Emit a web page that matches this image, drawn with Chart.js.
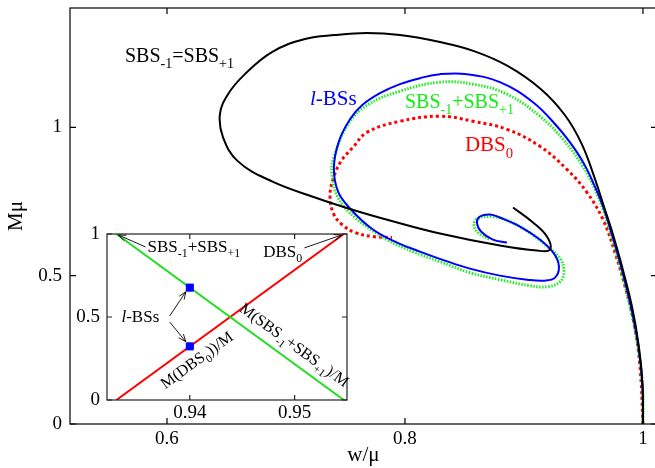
<!DOCTYPE html>
<html>
<head>
<meta charset="utf-8">
<script src="https://cdn.jsdelivr.net/npm/chart.js@4.4.0/dist/chart.umd.min.js"></script>
<style>
  html, body { margin: 0; padding: 0; background: #fff; overflow: hidden; }
  #wrap { position: relative; width: 655px; height: 468px; overflow: hidden; }
  #main { position: absolute; left: 0; top: 0; }
  #inset { position: absolute; left: 60px; top: 222px; }
</style>
</head>
<body>
<div id="wrap">
  <canvas id="main" width="660" height="468"></canvas>
  <canvas id="inset" width="300" height="205"></canvas>
</div>
<script>
// ---- main panel data (w/mu, M mu) ----
const sbsEqX = [1.000, 0.9996, 0.9966, 0.9908, 0.9815, 0.9748, 0.9672, 0.9592, 0.9487, 0.9345, 0.9143, 0.8866, 0.8580, 0.8294, 0.7958, 0.7681, 0.7412, 0.7160, 0.6882, 0.6655, 0.6513, 0.6445, 0.6471, 0.6597, 0.6882, 0.7244, 0.7580, 0.7874, 0.8294, 0.8798, 0.9109, 0.9218, 0.9193, 0.9076, 0.8908];
const sbsEqY = [0.000, 0.1318, 0.2601, 0.3953, 0.5439, 0.6385, 0.7331, 0.8311, 0.9426, 1.0405, 1.1284, 1.2061, 1.2568, 1.2872, 1.3108, 1.3176, 1.3108, 1.2973, 1.2534, 1.1791, 1.1115, 1.0439, 0.9662, 0.8851, 0.8176, 0.7635, 0.7196, 0.6858, 0.6419, 0.6014, 0.5845, 0.5878, 0.6318, 0.6791, 0.7297];

const lbsX = [1.000, 0.9996, 0.9962, 0.9899, 0.9807, 0.9739, 0.9664, 0.9588, 0.9521, 0.9429, 0.9277, 0.9076, 0.8798, 0.8521, 0.8294, 0.8126, 0.7958, 0.7790, 0.7639, 0.7538, 0.7445, 0.7403, 0.7437, 0.7546, 0.7731, 0.7933, 0.8126, 0.8336, 0.8546, 0.8798, 0.9025, 0.9176, 0.9261, 0.9294, 0.9252, 0.9134, 0.8966, 0.8798, 0.8714, 0.8630, 0.8605, 0.8639, 0.8739, 0.8857];
const lbsY = [0.000, 0.1318, 0.2601, 0.3953, 0.5439, 0.6385, 0.7331, 0.8074, 0.8649, 0.9257, 1.0034, 1.0845, 1.1520, 1.1791, 1.1791, 1.1655, 1.1453, 1.1149, 1.0743, 1.0270, 0.9527, 0.8649, 0.7838, 0.7230, 0.6554, 0.6115, 0.5811, 0.5507, 0.5236, 0.5000, 0.4865, 0.4831, 0.4932, 0.5304, 0.5743, 0.6216, 0.6655, 0.6959, 0.7061, 0.6993, 0.6791, 0.6486, 0.6216, 0.6115];

const sbsSumX = [1.000, 0.9996, 0.9958, 0.9891, 0.9798, 0.9731, 0.9664, 0.9597, 0.9496, 0.9328, 0.9134, 0.8857, 0.8571, 0.8294, 0.7958, 0.7681, 0.7521, 0.7403, 0.7387, 0.7437, 0.7580, 0.7849, 0.8067, 0.8294, 0.8546, 0.8798, 0.9050, 0.9202, 0.9303, 0.9336, 0.9303, 0.9176, 0.9008, 0.8840, 0.8714, 0.8613, 0.8580, 0.8613, 0.8714];
const sbsSumY = [0.000, 0.1318, 0.2601, 0.3953, 0.5439, 0.6385, 0.7230, 0.7905, 0.8682, 0.9595, 1.0372, 1.1115, 1.1453, 1.1520, 1.1216, 1.0743, 1.0101, 0.8986, 0.8412, 0.7635, 0.6959, 0.6216, 0.5811, 0.5473, 0.5101, 0.4865, 0.4662, 0.4628, 0.4797, 0.5135, 0.5574, 0.6047, 0.6554, 0.6892, 0.6993, 0.6926, 0.6723, 0.6453, 0.6216];

const dbsX = [1.000, 0.9975, 0.9924, 0.9857, 0.9765, 0.9664, 0.9529, 0.9361, 0.9134, 0.8857, 0.8571, 0.8294, 0.7958, 0.7681, 0.7563, 0.7462, 0.7395, 0.7370, 0.7403, 0.7471, 0.7580, 0.7731, 0.7891];
const dbsY = [0.000, 0.1926, 0.3412, 0.4527, 0.5777, 0.6892, 0.7804, 0.8581, 0.9358, 0.9932, 1.0203, 1.0372, 1.0203, 0.9831, 0.9324, 0.8851, 0.8243, 0.7635, 0.7061, 0.6723, 0.6453, 0.6318, 0.6284];

const xTicks = [0.6, 0.8, 1];
const xTickLabels = ['0.6', '0.8', '1'];
const yTicks = [0, 0.5, 1];
const yTickLabels = ['0', '0.5', '1'];

// ---- inset data (w/mu, M/M) ----
const insetSumX = [0.9330, 0.9547];
const insetSumY = [1, 0];
const insetDbsX = [0.9330, 0.9547];
const insetDbsY = [0, 1];
const insetLbsX = [0.94, 0.94];
const insetLbsY = [0.677, 0.323];

const insetXTicks = [0.94, 0.95];
const insetXTickLabels = ['0.94', '0.95'];
const insetYTicks = [0, 0.5, 1];
const insetYTickLabels = ['0', '0.5', '1'];

const SERIF = '"Liberation Serif", "DejaVu Serif", serif';
const toPts = (xs, ys) => xs.map((x, i) => ({ x: x, y: ys[i] }));

// text with subscripts / italics; parts = [[text, kind]], kind 0 normal, 1 sub, 2 italic
function richWidth(ctx, parts, size) {
  let w = 0;
  parts.forEach(([t, k]) => {
    ctx.font = (k === 2 ? 'italic ' : '') + (k === 1 ? size * 0.7 : size) + 'px ' + SERIF;
    w += ctx.measureText(t).width;
  });
  return w;
}
function drawRich(ctx, parts, x, y, size, color) {
  ctx.save();
  ctx.fillStyle = color;
  ctx.textBaseline = 'alphabetic';
  ctx.textAlign = 'left';
  let cx = x;
  parts.forEach(([t, k]) => {
    ctx.font = (k === 2 ? 'italic ' : '') + (k === 1 ? size * 0.7 : size) + 'px ' + SERIF;
    ctx.fillText(t, cx, y + (k === 1 ? size * 0.3 : 0));
    cx += ctx.measureText(t).width;
  });
  ctx.restore();
}

// frame with inward ticks on all four sides
function drawFrame(chart, xt, yt, len, color, lw) {
  const ctx = chart.ctx, a = chart.chartArea;
  const sx = chart.scales.x, sy = chart.scales.y;
  ctx.save();
  ctx.strokeStyle = color;
  ctx.lineWidth = lw;
  ctx.strokeRect(a.left, a.top, a.right - a.left, a.bottom - a.top);
  ctx.beginPath();
  xt.forEach(v => {
    const p = sx.getPixelForValue(v);
    ctx.moveTo(p, a.bottom); ctx.lineTo(p, a.bottom - len);
    ctx.moveTo(p, a.top); ctx.lineTo(p, a.top + len);
  });
  yt.forEach(v => {
    const p = sy.getPixelForValue(v);
    ctx.moveTo(a.left, p); ctx.lineTo(a.left + len, p);
    ctx.moveTo(a.right, p); ctx.lineTo(a.right - len, p);
  });
  ctx.stroke();
  ctx.restore();
}

function tickScale(ticks, labels, size) {
  return {
    type: 'linear',
    grid: { display: false, drawTicks: false },
    border: { display: false },
    afterBuildTicks: s => { s.ticks = ticks.map(v => ({ value: v })); },
    afterFit: s => {
      if (s.isHorizontal()) s.height = size; else s.width = size;
      s.paddingTop = 0; s.paddingBottom = 0; s.paddingLeft = 0; s.paddingRight = 0;
    },
    ticks: {
      autoSkip: false, maxRotation: 0, color: '#000',
      font: { family: SERIF, size: 19 },
      callback: (v, i) => labels[i]
    }
  };
}

// ---------------- main chart ----------------
const mainLabels = {
  id: 'mainLabels',
  afterDraw(chart) {
    const ctx = chart.ctx, sx = chart.scales.x, sy = chart.scales.y;
    drawFrame(chart, xTicks, yTicks, 6, '#000', 1.2);
    const P = (x, y) => [sx.getPixelForValue(x), sy.getPixelForValue(y)];
    let p = P(0.5647, 1.220);
    drawRich(ctx, [['SBS', 0], ['-1', 1], ['=SBS', 0], ['+1', 1]], p[0], p[1], 20, '#000');
    p = P(0.7202, 1.074);
    drawRich(ctx, [['l', 2], ['-BSs', 0]], p[0], p[1], 21, '#0000ff');
    p = P(0.800, 1.064);
    drawRich(ctx, [['SBS', 0], ['-1', 1], ['+SBS', 0], ['+1', 1]], p[0], p[1], 20, '#11ee11');
    p = P(0.8504, 0.919);
    drawRich(ctx, [['DBS', 0], ['0', 1]], p[0], p[1], 21, '#ff0000');
  }
};

const xMain = tickScale(xTicks, xTickLabels, 44);
xMain.min = 0.5185; xMain.max = 1.0118;
xMain.ticks.padding = 4;
xMain.title = { display: true, text: 'w/μ', color: '#000', font: { family: SERIF, size: 21 }, padding: 0 };
const yMain = tickScale(yTicks, yTickLabels, 70);
yMain.min = 0; yMain.max = 1.402;
yMain.ticks.padding = 8;
yMain.title = { display: true, text: 'Mμ', color: '#000', font: { family: SERIF, size: 21 }, padding: { top: 4 } };

new Chart(document.getElementById('main'), {
  type: 'scatter',
  data: {
    datasets: [
      { label: 'SBS-1=SBS+1', data: toPts(sbsEqX, sbsEqY), showLine: true, borderColor: '#000', borderWidth: 2, pointRadius: 0, tension: 0.4, order: 0 },
      { label: 'l-BSs', data: toPts(lbsX, lbsY), showLine: true, borderColor: '#0000ff', borderWidth: 2, pointRadius: 0, tension: 0.4, order: 1 },
      { label: 'SBS-1+SBS+1', data: toPts(sbsSumX, sbsSumY), showLine: true, borderColor: '#22ee22', borderWidth: 3, borderDash: [1.5, 1.5], pointRadius: 0, tension: 0.4, order: 2 },
      { label: 'DBS0', data: toPts(dbsX, dbsY), showLine: true, borderColor: '#ff0000', borderWidth: 3, borderDash: [3, 3], pointRadius: 0, tension: 0.4, order: 3 }
    ]
  },
  options: {
    responsive: false, animation: false, events: [],
    layout: { padding: { top: 8, right: 3, left: 0, bottom: 0 } },
    plugins: { legend: { display: false }, tooltip: { enabled: false } },
    scales: { x: xMain, y: yMain }
  },
  plugins: [mainLabels]
});

// ---------------- inset chart ----------------
function arrow(ctx, x1, y1, x2, y2) {
  const ang = Math.atan2(y2 - y1, x2 - x1), L = 8, h = 0.38;
  ctx.beginPath();
  ctx.moveTo(x1, y1); ctx.lineTo(x2, y2);
  ctx.moveTo(x2 - L * Math.cos(ang - h), y2 - L * Math.sin(ang - h));
  ctx.lineTo(x2, y2);
  ctx.lineTo(x2 - L * Math.cos(ang + h), y2 - L * Math.sin(ang + h));
  ctx.stroke();
}

const insetLabels = {
  id: 'insetLabels',
  beforeDraw(chart) {
    const a = chart.chartArea, ctx = chart.ctx;
    ctx.save(); ctx.fillStyle = '#fff';
    ctx.fillRect(a.left, a.top, a.right - a.left, a.bottom - a.top);
    ctx.restore();
  },
  afterDraw(chart) {
    const ctx = chart.ctx, sx = chart.scales.x, sy = chart.scales.y;
    drawFrame(chart, insetXTicks, insetYTicks, 5, '#222', 1.2);
    const P = (x, y) => [sx.getPixelForValue(x), sy.getPixelForValue(y)];
    let p = P(0.93597, 0.892);
    drawRich(ctx, [['SBS', 0], ['-1', 1], ['+SBS', 0], ['+1', 1]], p[0], p[1], 17, '#000');
    p = P(0.9470, 0.861);
    drawRich(ctx, [['DBS', 0], ['0', 1]], p[0], p[1], 17, '#000');
    p = P(0.93348, 0.470);
    drawRich(ctx, [['l', 2], ['-BSs', 0]], p[0], p[1], 17, '#000');

    ctx.save();
    ctx.strokeStyle = '#000'; ctx.lineWidth = 0.9;
    [[0.93578, 0.922, 0.93319, 0.994], [0.95093, 0.916, 0.95448, 0.994],
     [0.93808, 0.506, 0.93962, 0.652], [0.93808, 0.470, 0.93962, 0.351]].forEach(q => {
      const s = P(q[0], q[1]), e = P(q[2], q[3]);
      arrow(ctx, s[0], s[1], e[0], e[1]);
    });
    ctx.restore();

    // labels running along the two lines
    const rot = (xs, ys, parts, cx, cy) => {
      const a = P(xs[0], ys[0]), b = P(xs[1], ys[1]);
      const ang = Math.atan2(b[1] - a[1], b[0] - a[0]);
      const c = P(cx, cy);
      ctx.save();
      ctx.translate(c[0], c[1]);
      ctx.rotate(ang);
      const w = richWidth(ctx, parts, 16);
      drawRich(ctx, parts, -w / 2, 5, 16, '#000');
      ctx.restore();
    };
    rot(insetDbsX, insetDbsY, [['M(DBS', 0], ['0', 1], ['))/M', 0]], 0.94067, 0.241);
    rot(insetSumX, insetSumY, [['M(SBS', 0], ['-1', 1], ['+SBS', 0], ['+1', 1], [')/M', 0]], 0.94997, 0.331);
  }
};

const xIn = tickScale(insetXTicks, insetXTickLabels, 27);
xIn.min = 0.9321; xIn.max = 0.9550;
xIn.ticks.padding = 2;
const yIn = tickScale(insetYTicks, insetYTickLabels, 47);
yIn.min = 0; yIn.max = 1;
yIn.ticks.padding = 7;

new Chart(document.getElementById('inset'), {
  type: 'scatter',
  data: {
    datasets: [
      { label: 'l-BSs', data: toPts(insetLbsX, insetLbsY), pointStyle: 'rect', pointRadius: 5, backgroundColor: '#0000ff', borderColor: '#0000ff', borderWidth: 1, order: 0 },
      { label: 'SBS-1+SBS+1', data: toPts(insetSumX, insetSumY), showLine: true, borderColor: '#22dd22', borderWidth: 2, pointRadius: 0, order: 1 },
      { label: 'DBS0', data: toPts(insetDbsX, insetDbsY), showLine: true, borderColor: '#ff0000', borderWidth: 2, pointRadius: 0, order: 2 }
    ]
  },
  options: {
    responsive: false, animation: false, events: [],
    layout: { padding: { top: 12, right: 13, left: 0, bottom: 0 } },
    plugins: { legend: { display: false }, tooltip: { enabled: false } },
    scales: { x: xIn, y: yIn }
  },
  plugins: [insetLabels]
});
</script>
</body>
</html>
